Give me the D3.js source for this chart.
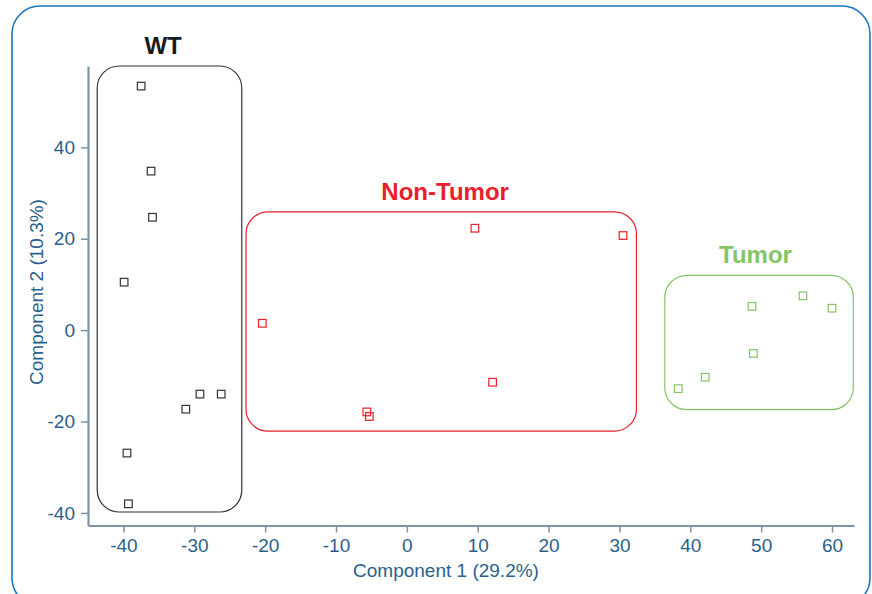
<!DOCTYPE html>
<html>
<head>
<meta charset="utf-8">
<script src="https://cdn.jsdelivr.net/npm/d3@7"></script>
<style>
  body { margin: 0; background: #fff; }
  svg { display: block; }
  text { font-family: "Liberation Sans", Arial, sans-serif; }
</style>
</head>
<body>
<div id="chart"></div>
<script>
// PCA scores
var wtX = [-37.5, -36.1, -35.9, -39.9, -31.2, -29.2, -26.2, -39.5, -39.3];
var wtY = [53.4, 34.8, 24.7, 10.5, -17.3, -14.0, -14.0, -26.9, -38.0];
var nonTumorX = [-20.4, 9.6, 30.5, 12.1, -5.65, -5.3];
var nonTumorY = [1.5, 22.3, 20.7, -11.4, -17.9, -18.9];
var tumorX = [38.3, 42.1, 48.7, 48.9, 55.9, 60.0];
var tumorY = [-12.8, -10.3, 5.2, -5.1, 7.5, 4.8];

var groupNames = ["WT", "Non-Tumor", "Tumor"];
// box extents per group: [xmin, xmax, ymin, ymax]
var groupBoxes = [[-43.7, -23.3, -39.8, 57.8], [-22.7, 32.4, -22.1, 25.9], [36.4, 63.0, -17.4, 12.0]];
var labelX = [-34.4, 5.4, 49.2];
var xTicks = [-40, -30, -20, -10, 0, 10, 20, 30, 40, 50, 60];
var yTicks = [-40, -20, 0, 20, 40];

var colors = ["#333333", "#e62129", "#84c567"];

var W = 872, H = 594;
var svg = d3.select("#chart").append("svg").attr("width", W).attr("height", H);

// outer frame
svg.append("rect")
  .attr("x", 12).attr("y", 6).attr("width", 858).attr("height", 600)
  .attr("rx", 28).attr("ry", 28)
  .attr("fill", "none").attr("stroke", "#1a76bd").attr("stroke-width", 1.6);

var x = d3.scaleLinear().domain([-45, 63.1]).range([88, 854]);
var y = d3.scaleLinear().domain([-42.75, 57.8]).range([525.5, 66]);

var axisColor = "#7d94a6", tickText = "#2b5f8c";
var fmt = function(d) { return String(d); };

var xAxis = svg.append("g").attr("transform", "translate(0,525.5)")
  .call(d3.axisBottom(x).tickValues(xTicks).tickFormat(fmt).tickSize(7).tickSizeOuter(0).tickPadding(6));
var yAxis = svg.append("g").attr("transform", "translate(88,0)")
  .call(d3.axisLeft(y).tickValues(yTicks).tickFormat(fmt).tickSize(7).tickSizeOuter(0).tickPadding(6));

[xAxis, yAxis].forEach(function(a) {
  a.select(".domain").attr("stroke", axisColor).attr("stroke-width", 2.2);
  a.selectAll(".tick line").attr("stroke", axisColor).attr("stroke-width", 1.5);
  a.selectAll(".tick text").attr("fill", tickText).attr("font-size", 19)
    .style("font-family", "'Liberation Sans', Arial, sans-serif");
});

svg.append("text").attr("x", 446).attr("y", 577)
  .attr("text-anchor", "middle").attr("fill", tickText).attr("font-size", 19)
  .text("Component 1 (29.2%)");
svg.append("text").attr("transform", "translate(43,292) rotate(-90)")
  .attr("text-anchor", "middle").attr("fill", tickText).attr("font-size", 19)
  .text("Component 2 (10.3%)");

// group boxes and labels
groupBoxes.forEach(function(b, i) {
  svg.append("rect")
    .attr("x", x(b[0])).attr("y", y(b[3]))
    .attr("width", x(b[1]) - x(b[0])).attr("height", y(b[2]) - y(b[3]))
    .attr("rx", 22).attr("ry", 22)
    .attr("fill", "none").attr("stroke", colors[i]).attr("stroke-width", 1.2);
  svg.append("text")
    .attr("x", x(labelX[i])).attr("y", y(b[3]) - 12)
    .attr("text-anchor", "middle").attr("font-weight", "bold").attr("font-size", 24)
    .attr("fill", i === 0 ? "#1a1a1a" : colors[i])
    .text(groupNames[i]);
});

var series = [[wtX, wtY], [nonTumorX, nonTumorY], [tumorX, tumorY]];
series.forEach(function(s, i) {
  svg.append("g").selectAll("rect").data(d3.range(s[0].length)).enter().append("rect")
    .attr("x", function(j) { return x(s[0][j]) - 3.8; })
    .attr("y", function(j) { return y(s[1][j]) - 3.8; })
    .attr("width", 7.6).attr("height", 7.6)
    .attr("fill", "none")
    .attr("stroke", colors[i]).attr("stroke-width", 1.2);
});
</script>
</body>
</html>
